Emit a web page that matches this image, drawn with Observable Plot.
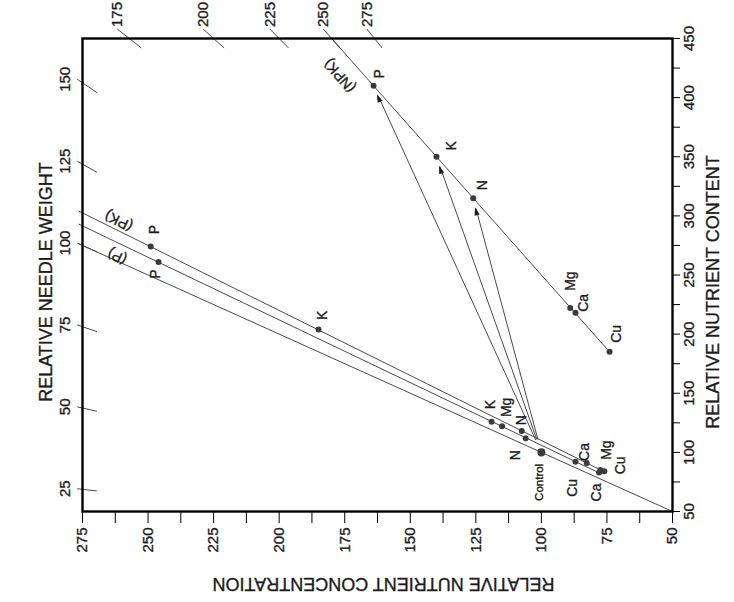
<!DOCTYPE html>
<html><head><meta charset="utf-8">
<script src="https://cdn.jsdelivr.net/npm/d3@7"></script>
<script src="https://cdn.jsdelivr.net/npm/@observablehq/plot@0.6"></script>
<style>
html,body{margin:0;padding:0;background:#fff;}
#wrap{position:relative;width:734px;height:602px;overflow:hidden;background:#fff;}
#wrap svg{position:absolute;left:0;top:0;transform-origin:0 0;transform:translate(0px,602px) rotate(-90deg);max-width:none !important;}
</style></head>
<body><div id="wrap"></div>
<script>
// ---------------- data ----------------
const contentTicks = [50, 100, 150, 200, 250, 300, 350, 400, 450];
const contentMinorTicks = [75, 125, 175, 225, 275, 325, 375, 425];
const concTicks = [50, 75, 100, 125, 150, 175, 200, 225, 250, 275];
const concMinorTicks = [62.5, 87.5, 112.5, 137.5, 162.5, 187.5, 212.5, 237.5, 262.5];
const weightTicksEdgeConc = [25, 50, 75, 100, 125, 150];   // isolines crossing the concentration-275 edge
const weightTicksEdgeContent = [175, 200, 225, 250, 275];  // isolines crossing the content-450 edge

const isoTreatment = ["Control", "P", "PK", "NPK"];
const isoWeight = [100, 106, 110, 250];
const isoLabel = ["", "(P)", "(PK)", "(NPK)"];
const isoLabelConc = [null, 261.8, 261.2, 176.9];

const ptTreatment = ["Control",
  "P", "P", "P", "P", "P", "P",
  "PK", "PK", "PK", "PK", "PK", "PK",
  "NPK", "NPK", "NPK", "NPK", "NPK", "NPK"];
const ptNutrient = ["Control",
  "P", "K", "Mg", "N", "Cu", "Ca",
  "P", "K", "N", "Ca", "Mg", "Cu",
  "P", "K", "N", "Mg", "Ca", "Cu"];
const ptConc = [100,
  246, 119, 115, 106, 87, 78,
  249, 185, 107.5, 82.7, 77.5, 76,
  164, 140, 126, 89, 87, 74];
const ptContent = [100,
  261, 126, 122, 112, 92, 83,
  274, 204, 118, 91, 85, 84,
  410, 350, 315, 222, 218, 185];

const arrowTreatment = "NPK";
const arrowTargets = ["P", "K", "N"];

// ---------------- layout / style ----------------
const W = 602, H = 734, mL = 90, mR = 39, mT = 82, mB = 62;
const xDom = [50, 450], yDom = [50, 275];
const kx = (W - mL - mR) / (xDom[1] - xDom[0]);
const ky = (H - mT - mB) / (yDom[1] - yDom[0]);
const slopeDeg = w => Math.atan2(-ky * 100 / w, kx) * 180 / Math.PI;
const lineColor = "#4a4a4a", dotColor = "#3b3b3b", inkColor = "#1c1c1c";
const FONT = "'Liberation Sans', Arial, Helvetica, sans-serif";
const TS = 0.35; // text thickening stroke

// label offsets (px, in unrotated chart) for each point
const ptLabelOff = [[-30, -2],
  [-12, -3], [17, -1], [19, 4], [-17, -10], [-26, -3], [-20, -3],
  [17, 4], [14, 4], [11, 0], [11, -2], [20, 6], [6, 16],
  [12, 6], [11, 15], [13, 9], [27, 0], [10, 8], [18, 7]];
const isoLabelDx = [0, -14, 10, -28];

const ptIndex = (t, n) => ptTreatment.findIndex((d, i) => d === t && ptNutrient[i] === n);
const ctrl = ptIndex("Control", "Control");

// isoline segments
const isolines = isoTreatment.map((t, i) => {
  const w = isoWeight[i];
  const concs = ptConc.filter((c, j) => ptTreatment[j] === t);
  const from = Math.min(276.5, 45000 / w);
  const to = t === "Control" ? yDom[0] : Math.min(...concs);
  return {w, x1: w * from / 100, y1: from, x2: w * to / 100, y2: to};
});

// weight ticks
const wtA = weightTicksEdgeConc.map(w => ({w, x1: w * 277 / 100, y1: 277, x2: w * 269.5 / 100, y2: 269.5}));
const wtB = weightTicksEdgeContent.map(w => ({w, x1: 458, y1: 45800 / w, x2: 442, y2: 44200 / w}));

const points = ptConc.map((c, i) => ({c, v: ptContent[i], t: ptTreatment[i], n: ptNutrient[i], i}));
const arrows = arrowTargets.map(n => {
  const j = ptIndex(arrowTreatment, n);
  return {x1: ptContent[ctrl], y1: ptConc[ctrl], x2: ptContent[j], y2: ptConc[j]};
});

const headInset = 9, headLen = 8, headHalf = 2.6;
function arrowHeads(index, scales) {
  const g = d3.create("svg:g").attr("fill", inkColor);
  arrows.forEach(a => {
    const x0 = scales.x(a.x1), y0 = scales.y(a.y1);
    const x = scales.x(a.x2), y = scales.y(a.y2);
    const ang = Math.atan2(y - y0, x - x0), c = Math.cos(ang), s = Math.sin(ang);
    const tx = x - c * headInset, ty = y - s * headInset;
    const bx = tx - c * headLen, by = ty - s * headLen;
    g.append("path").attr("d", `M${tx},${ty}L${bx - s * headHalf},${by + c * headHalf}L${bx + s * headHalf},${by - c * headHalf}Z`);
  });
  return g.node();
}

const txt = {fill: inkColor, stroke: inkColor, strokeWidth: TS};

const labelMarks = points.map((p, i) => Plot.text([p], {
  x: "v", y: "c", text: d => d.n,
  dx: ptLabelOff[i][0], dy: ptLabelOff[i][1],
  fontSize: p.n === "Control" ? 11.5 : 14, ...txt
}));

const isoLabelMarks = isoTreatment.map((t, i) => isoLabel[i] ? Plot.text([i], {
  x: j => isoWeight[j] * isoLabelConc[j] / 100, y: j => isoLabelConc[j], text: j => isoLabel[j],
  dx: isoLabelDx[i], rotate: slopeDeg(isoWeight[i]), fontSize: 14.5, ...txt
}) : null).filter(Boolean);

const axisStyle = {label: null, stroke: "black", fontSize: 15, textStroke: inkColor, textStrokeWidth: TS, fill: inkColor};

const chart = Plot.plot({
  width: W, height: H,
  marginLeft: mL, marginRight: mR, marginTop: mT, marginBottom: mB,
  x: {domain: xDom},
  y: {domain: yDom},
  style: {fontFamily: FONT, background: "white", color: inkColor},
  marks: [
    Plot.axisX({anchor: "bottom", ticks: contentTicks, tickSize: 8, tickPadding: 3, ...axisStyle}),
    Plot.axisX({anchor: "bottom", ticks: contentMinorTicks, tickSize: 8, tickFormat: () => "", ...axisStyle}),
    Plot.axisY({anchor: "left", ticks: concTicks, tickSize: 11, tickPadding: 5, ...axisStyle}),
    Plot.axisY({anchor: "left", ticks: concMinorTicks, tickSize: 11, tickFormat: () => "", ...axisStyle}),
    // weight isoline ticks
    Plot.link(wtA, {x1: "x1", y1: "y1", x2: "x2", y2: "y2", stroke: lineColor, strokeWidth: 1}),
    Plot.link(wtB, {x1: "x1", y1: "y1", x2: "x2", y2: "y2", stroke: lineColor, strokeWidth: 1}),
    Plot.text(wtA, {x: "x1", y: "y1", text: d => String(d.w), dy: -12, fontSize: 15, ...txt}),
    Plot.text(wtB, {x: "x1", y: "y1", text: d => String(d.w), dx: 2, textAnchor: "start", fontSize: 15, ...txt}),
    // isolines
    Plot.link(isolines, {x1: "x1", y1: "y1", x2: "x2", y2: "y2", stroke: lineColor, strokeWidth: 1}),
    // arrows
    Plot.arrow(arrows, {x1: "x1", y1: "y1", x2: "x2", y2: "y2", insetStart: 14, insetEnd: headInset + 2, headLength: 0, stroke: lineColor, strokeWidth: 1}),
    arrowHeads,
    Plot.frame({stroke: "black", strokeWidth: 2.4}),
    Plot.dot(points, {x: "v", y: "c", r: d => d.n === "Control" ? 7.5 : 4.2, fill: dotColor, stroke: "none"}),
    ...labelMarks,
    ...isoLabelMarks,
    Plot.text(["RELATIVE NEEDLE WEIGHT"], {frameAnchor: "top", textAnchor: "middle", lineAnchor: "middle", dy: -36, dx: -7, fontSize: 18, ...txt}),
    Plot.text(["RELATIVE NUTRIENT CONTENT"], {frameAnchor: "bottom", textAnchor: "middle", lineAnchor: "middle", dy: 41, dx: -17, fontSize: 18, ...txt}),
    Plot.text(["RELATIVE NUTRIENT CONCENTRATION"], {frameAnchor: "left", textAnchor: "middle", lineAnchor: "middle", dx: -72, dy: 6, rotate: -90, fontSize: 18, ...txt})
  ]
});
document.getElementById("wrap").appendChild(chart);
</script>
</body></html>
